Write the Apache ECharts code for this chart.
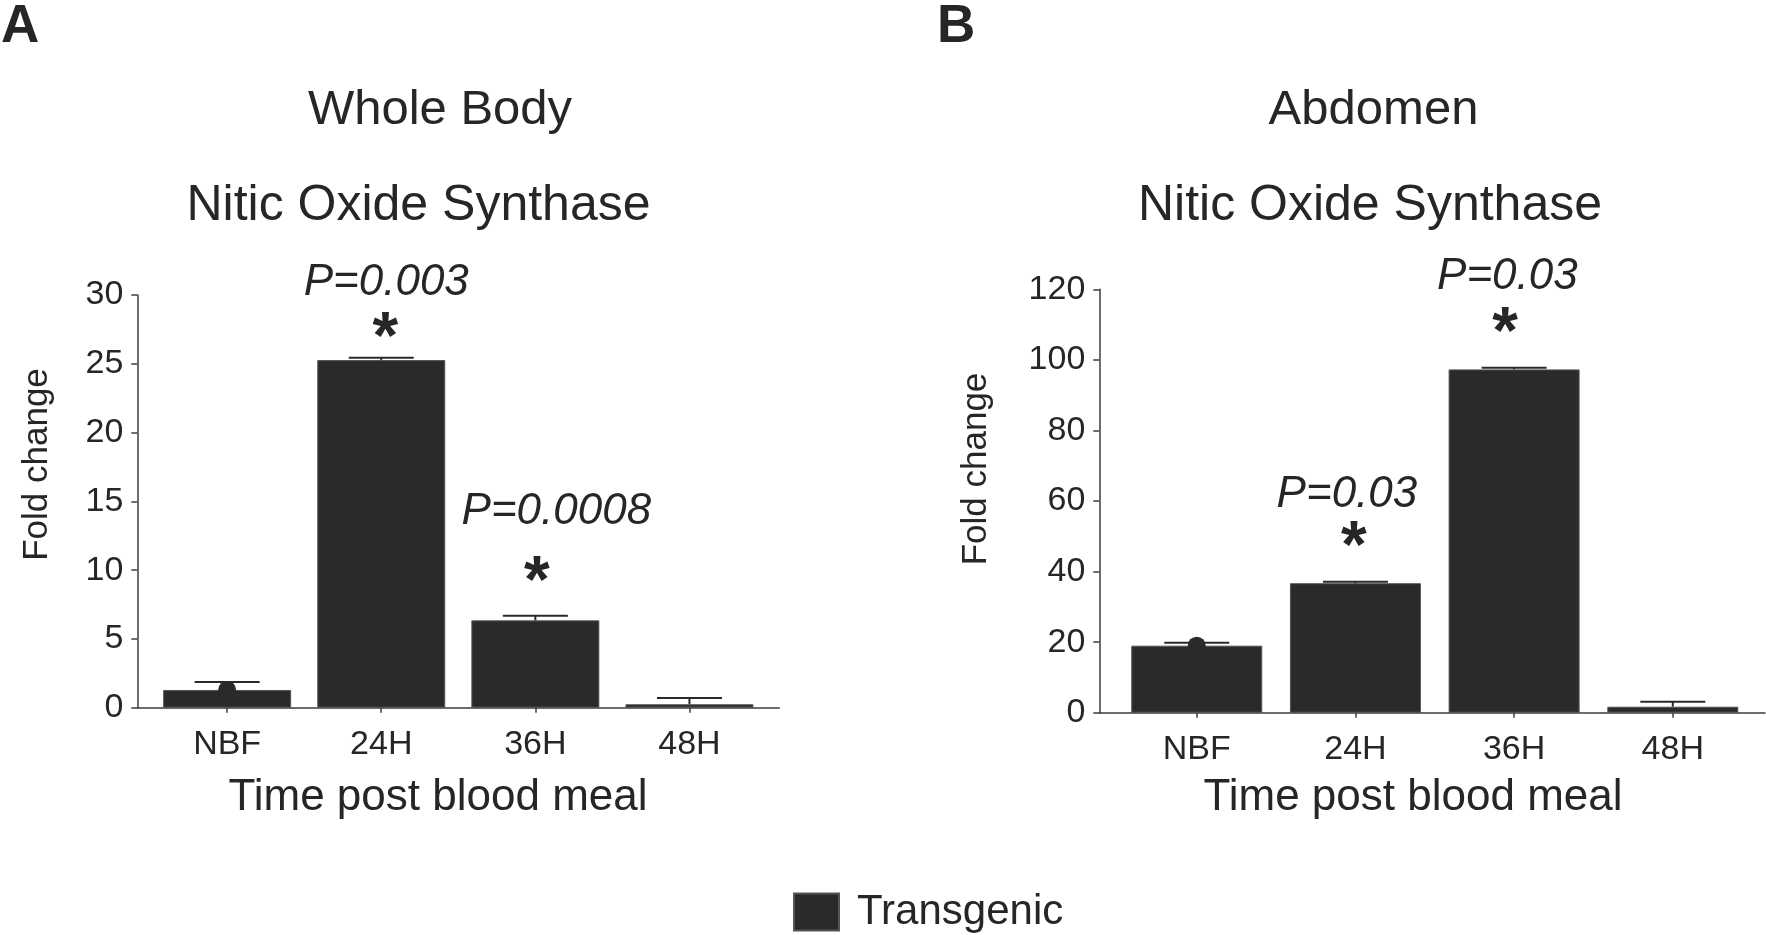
<!DOCTYPE html>
<html>
<head>
<meta charset="utf-8">
<title>Nitic Oxide Synthase</title>
<script src="https://cdn.jsdelivr.net/npm/echarts@6/dist/echarts.min.js"></script>
<style>
  html, body { margin: 0; padding: 0; background: #fff; }
  #chart { width: 1766px; height: 935px; }
</style>
</head>
<body>
<div id="chart"></div>
<script>
var categories = ['NBF', '24H', '36H', '48H'];

// A - whole body
var wholeMean = [1.29, 25.27, 6.35, 0.25];
var wholeErr = [0.58, 0.17, 0.34, 0.45];
var wholePval = ['', 'P=0.003', 'P=0.0008', ''];
var wholeTicks = [0, 5, 10, 15, 20, 25, 30];

// B - abdomen
var abdMean = [19.0, 36.7, 97.3, 1.7];
var abdErr = [0.8, 0.4, 0.5, 1.4];
var abdPval = ['', 'P=0.03', 'P=0.03', ''];
var abdTicks = [0, 20, 40, 60, 80, 100, 120];

// label nudges in px (layout only)
var wholePOff = [null, [5, -75], [21, -104], null];
var wholeStarOff = [null, [4, -18], [1.5, -32], null];
var abdPOff = [null, [-8.5, -87], [-6.7, -91], null];
var abdStarOff = [null, [-1.5, -33], [-9, -33], null];

var FONT = '"Liberation Sans", Arial, Helvetica, sans-serif';
var INK = '#262626';
var BAR = '#2a2a2a';
var AXIS = '#3c3c3c';

var chart = echarts.init(document.getElementById('chart'));

function errRender(params, api) {
  var x = api.value(0), m = api.value(1), e = api.value(2);
  var base = api.coord([x, m]);
  var top = api.coord([x, m + e]);
  var half = 32.5;
  return {
    type: 'group',
    children: [
      { type: 'line', shape: { x1: base[0], y1: base[1], x2: top[0], y2: top[1] },
        style: { stroke: BAR, lineWidth: 2 } },
      { type: 'line', shape: { x1: top[0] - half, y1: top[1], x2: top[0] + half, y2: top[1] },
        style: { stroke: BAR, lineWidth: 2 } }
    ]
  };
}

function annot(mean, err, texts, offs) {
  var out = [];
  for (var i = 0; i < mean.length; i++) {
    if (!texts[i]) continue;
    out.push({
      value: [i, mean[i] + err[i]],
      label: { formatter: texts[i], offset: offs[i] }
    });
  }
  return out;
}

function panelSeries(idx, mean, err, pvals, pOff, sOff, barW) {
  var stars = pvals.map(function (p) { return p ? '*' : ''; });
  return [
    {
      name: 'Transgenic', type: 'bar', xAxisIndex: idx, yAxisIndex: idx,
      barWidth: barW,
      data: mean.map(function (v, i) { return [i, v]; }),
      itemStyle: { color: BAR, borderColor: '#555', borderWidth: 1 },
      z: 2
    },
    {
      name: 'err' + idx, type: 'custom', xAxisIndex: idx, yAxisIndex: idx,
      renderItem: errRender,
      data: mean.map(function (v, i) { return [i, v, err[i]]; }),
      encode: { x: 0, y: 1 },
      z: 3
    },
    {
      name: 'dot' + idx, type: 'scatter', xAxisIndex: idx, yAxisIndex: idx,
      symbol: 'circle', symbolSize: 18,
      data: [[0, mean[0]]],
      itemStyle: { color: BAR, opacity: 1 },
      z: 4
    },
    {
      name: 'p' + idx, type: 'scatter', xAxisIndex: idx, yAxisIndex: idx,
      symbolSize: 0.1, itemStyle: { color: 'rgba(0,0,0,0)', opacity: 1 },
      data: annot(mean, err, pvals, pOff),
      label: { show: true, position: 'inside', color: INK, fontFamily: FONT,
        fontSize: 44, fontStyle: 'italic', lineHeight: 44 },
      z: 5
    },
    {
      name: 's' + idx, type: 'scatter', xAxisIndex: idx, yAxisIndex: idx,
      symbolSize: 0.1, itemStyle: { color: 'rgba(0,0,0,0)', opacity: 1 },
      data: annot(mean, err, stars, sOff),
      label: { show: true, position: 'inside', color: INK, fontFamily: FONT,
        fontSize: 66, fontWeight: 'bold', lineHeight: 66 },
      z: 5
    }
  ];
}

function xAxisFor(idx, min, max) {
  return {
    gridIndex: idx, type: 'value', min: min, max: max,
    splitLine: { show: false },
    axisLine: { show: true, onZero: true, lineStyle: { color: AXIS, width: 1.5 } },
    axisTick: { show: true, customValues: [0, 1, 2, 3], length: 5, lineStyle: { color: AXIS, width: 1.5 } },
    axisLabel: {
      customValues: [0, 1, 2, 3], margin: 20, color: INK, fontSize: 34, fontFamily: FONT,
      formatter: function (v) { return categories[Math.round(v)]; }
    }
  };
}

function yAxisFor(idx, ticks) {
  return {
    gridIndex: idx, type: 'value',
    min: ticks[0], max: ticks[ticks.length - 1], interval: ticks[1] - ticks[0],
    splitLine: { show: false },
    axisLine: { show: true, onZero: false, lineStyle: { color: AXIS, width: 1.5 } },
    axisTick: { show: true, length: 6, lineStyle: { color: AXIS, width: 1.5 } },
    axisLabel: { margin: 14, color: INK, fontSize: 34, fontFamily: FONT }
  };
}

function txt(s, x, y, size, opts) {
  opts = opts || {};
  return {
    type: 'text', x: x, y: y, rotation: opts.rot || 0, silent: true,
    style: {
      text: s, fill: INK,
      font: (opts.weight || 'normal') + ' ' + size + 'px ' + FONT,
      textAlign: opts.align || 'center', textVerticalAlign: 'middle',
      align: opts.align || 'center', verticalAlign: 'middle'
    }
  };
}

var option = {
  backgroundColor: '#fff',
  animation: false,
  grid: [
    { left: 137.3, top: 295, width: 642, height: 412.7, outerBoundsMode: 'none' },
    { left: 1099.3, top: 289.3, width: 665.7, height: 423.4, outerBoundsMode: 'none' }
  ],
  xAxis: [xAxisFor(0, -0.583, 3.583), xAxisFor(1, -0.614, 3.581)],
  yAxis: [yAxisFor(0, wholeTicks), yAxisFor(1, abdTicks)],
  legend: {
    data: ['Transgenic'], left: 788, top: 886, icon: 'rect',
    itemWidth: 45, itemHeight: 37,
    itemStyle: { color: BAR },
    textStyle: { fontSize: 42, color: INK, fontFamily: FONT, padding: [0, 0, 0, 13] }
  },
  graphic: [
    txt('A', 1, 27, 53, { weight: 'bold', align: 'left' }),
    txt('B', 937, 27, 53, { weight: 'bold', align: 'left' }),
    txt('Whole Body', 440, 110, 49),
    txt('Nitic Oxide Synthase', 418.5, 206, 50),
    txt('Abdomen', 1373.5, 110, 49),
    txt('Nitic Oxide Synthase', 1370, 206, 50),
    txt('Fold change', 37.7, 464.5, 35, { rot: Math.PI / 2 }),
    txt('Fold change', 976.5, 469, 35, { rot: Math.PI / 2 }),
    txt('Time post blood meal', 438, 798, 44),
    txt('Time post blood meal', 1413, 798, 44)
  ],
  series: panelSeries(0, wholeMean, wholeErr, wholePval, wholePOff, wholeStarOff, 128)
    .concat(panelSeries(1, abdMean, abdErr, abdPval, abdPOff, abdStarOff, 131))
};

chart.setOption(option);
</script>
</body>
</html>
